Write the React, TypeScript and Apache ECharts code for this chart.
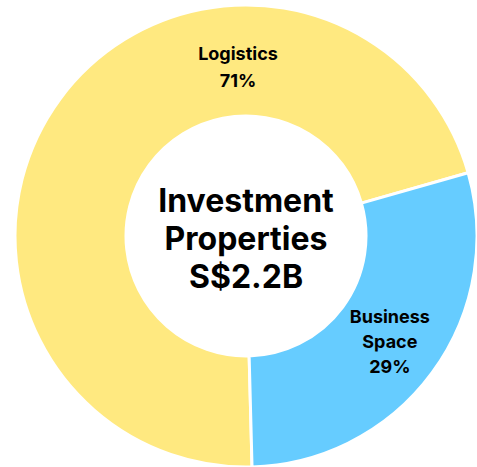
import React, { useEffect, useRef } from "react";
import * as echarts from "echarts";

const categories = ["Logistics", "Business\nSpace"];
const shares = [71, 29];
const colors = ["#FFE980", "#66CCFF"];
const centerLines = ["Investment", "Properties", "S$2.2B"];

export default function App() {
  const ref = useRef<HTMLDivElement>(null);
  useEffect(() => {
    if (!ref.current) return;
    const chart = echarts.init(ref.current, null, { renderer: "svg" });
    const font = "Inter, 'Noto Sans', sans-serif";
    chart.setOption({
      animation: false,
      backgroundColor: "#ffffff",
      series: [
        {
          type: "pie",
          center: [246, 236],
          radius: [120, 231],
          startAngle: -88.5,
          clockwise: true,
          avoidLabelOverlap: false,
          labelLine: { show: false },
          itemStyle: { borderColor: "#ffffff", borderWidth: 3 },
          data: categories.map((c, i) => ({
            name: c,
            value: shares[i],
            itemStyle: { color: colors[i] },
            label:
              i === 0
                ? { show: false }
                : {
                    show: true,
                    position: "inside",
                    formatter: (p: any) => `${p.name}\n${shares[p.dataIndex]}%`,
                    color: "#000000",
                    fontFamily: font,
                    fontWeight: "bold",
                    fontSize: 18,
                    lineHeight: 25,
                    align: "center",
                  },
          })),
        },
      ],
      graphic: [
        {
          type: "text",
          z: 100,
          x: 238,
          y: 67,
          style: {
            text: `${categories[0]}\n${shares[0]}%`,
            fill: "#000000",
            font: `bold 18px ${font}`,
            lineHeight: 27,
            align: "center",
            verticalAlign: "middle",
          },
        },
        {
          type: "text",
          z: 100,
          x: 246,
          y: 238,
          style: {
            text: centerLines.join("\n"),
            fill: "#000000",
            font: `bold 32px ${font}`,
            lineHeight: 38,
            align: "center",
            verticalAlign: "middle",
          },
        },
      ],
    });
    return () => chart.dispose();
  }, []);
  return (
    <div
      ref={ref}
      style={{ position: "fixed", left: 0, top: 0, width: 477, height: 467 }}
    />
  );
}
